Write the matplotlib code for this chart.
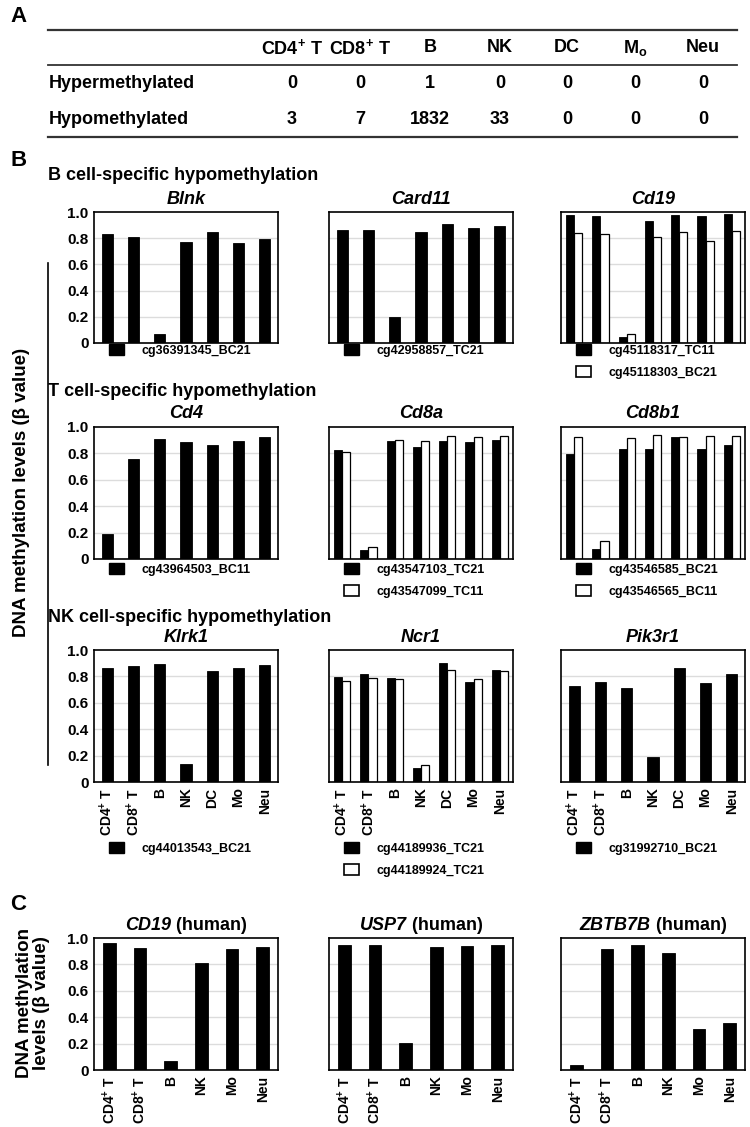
import matplotlib
matplotlib.use("Agg")
import matplotlib.pyplot as plt
import numpy as np
from matplotlib.patches import Patch
from matplotlib.lines import Line2D

plt.rcParams['font.family'] = ['Liberation Sans', 'DejaVu Sans']
plt.rcParams['font.weight'] = 'bold'
plt.rcParams['mathtext.fontset'] = 'custom'
plt.rcParams['mathtext.rm'] = 'Liberation Sans:bold'
plt.rcParams['mathtext.bf'] = 'Liberation Sans:bold'
plt.rcParams['mathtext.it'] = 'Liberation Sans:bold:italic'
plt.rcParams['mathtext.default'] = 'bf'

# ---------------- data ----------------
# panel A table
table_cols = ['CD4$^{+}$ T', 'CD8$^{+}$ T', 'B', 'NK', 'DC', 'M$_{o}$', 'Neu']
table_rows = ['Hypermethylated', 'Hypomethylated']
hyper_counts = [0, 0, 1, 0, 0, 0, 0]
hypo_counts = [3, 7, 1832, 33, 0, 0, 0]

# panel B (mouse)
cells_mouse = ['CD4$^{+}$ T', 'CD8$^{+}$ T', 'B', 'NK', 'DC', 'Mo', 'Neu']
blnk = [0.83, 0.81, 0.07, 0.77, 0.85, 0.765, 0.795]
card11 = [0.866, 0.866, 0.195, 0.848, 0.911, 0.881, 0.894]
cd19_a = [0.975, 0.967, 0.043, 0.929, 0.975, 0.970, 0.985]
cd19_b = [0.838, 0.833, 0.071, 0.810, 0.848, 0.777, 0.853]
cd4 = [0.188, 0.759, 0.912, 0.884, 0.864, 0.897, 0.922]
cd8a_a = [0.824, 0.070, 0.897, 0.850, 0.892, 0.887, 0.900]
cd8a_b = [0.809, 0.090, 0.900, 0.897, 0.935, 0.925, 0.930]
cd8b1_a = [0.799, 0.078, 0.837, 0.830, 0.925, 0.830, 0.862]
cd8b1_b = [0.925, 0.136, 0.920, 0.940, 0.922, 0.935, 0.930]
klrk1 = [0.866, 0.881, 0.891, 0.139, 0.843, 0.866, 0.884]
ncr1_a = [0.797, 0.815, 0.790, 0.109, 0.899, 0.759, 0.848]
ncr1_b = [0.765, 0.787, 0.780, 0.132, 0.848, 0.777, 0.840]
pik3r1 = [0.724, 0.759, 0.709, 0.192, 0.866, 0.747, 0.815]

# panel C (human)
cells_human = ['CD4$^{+}$ T', 'CD8$^{+}$ T', 'B', 'NK', 'Mo', 'Neu']
cd19_h = [0.962, 0.927, 0.068, 0.813, 0.919, 0.929]
usp7_h = [0.949, 0.947, 0.203, 0.929, 0.939, 0.944]
zbtb7b_h = [0.040, 0.916, 0.947, 0.884, 0.309, 0.354]

W, H = 750, 1127
fig = plt.figure(figsize=(W / 100, H / 100), dpi=100)
renderer = fig.canvas.get_renderer()


def box(left, top, right, bottom):
    return [left / W, 1 - bottom / H, (right - left) / W, (bottom - top) / H]


def fx(x):
    return x / W


def fy(y):
    return 1 - y / H


# ---------------- panel A ----------------
fig.text(fx(10), fy(17), 'A', fontsize=16, fontweight='bold', va='center')
col_x = [292, 360, 430, 500, 567, 635, 703]
for y, lw in [(30, 1.6), (65, 1.3), (137, 1.6)]:
    fig.add_artist(Line2D([fx(48), fx(737)], [fy(y), fy(y)], color='#333333', lw=lw))
for x, c in zip(col_x, table_cols):
    fig.text(fx(x), fy(48), c, fontsize=13, ha='center', va='center')
for y, name, vals in [(84, table_rows[0], hyper_counts), (120, table_rows[1], hypo_counts)]:
    fig.text(fx(49), fy(y), name, fontsize=13, ha='left', va='center')
    for x, v in zip(col_x, vals):
        fig.text(fx(x), fy(y), str(v), fontsize=13, ha='center', va='center')

# ---------------- panel B / C ----------------
col_left = [94, 329, 561]
ax_w = 184


def draw_panel(ax, cats, vals_a, vals_b=None, show_y=False, show_x=False):
    n = len(cats)
    x = np.arange(n)
    for g in [0.2, 0.4, 0.6, 0.8]:
        ax.axhline(g, color='#dcdcdc', lw=1.0, zorder=0)
    if vals_b is None:
        ax.bar(x, vals_a, 0.42, color='black', edgecolor='black', lw=0.6, zorder=2)
    else:
        ax.bar(x - 0.155, vals_a, 0.31, color='black', edgecolor='black', lw=0.6, zorder=2)
        ax.bar(x + 0.155, vals_b, 0.31, color='white', edgecolor='black', lw=0.9, zorder=2)
    ax.set_xlim(-0.5, n - 0.5)
    ax.set_ylim(0, 1.0)
    ax.set_yticks([0, 0.2, 0.4, 0.6, 0.8, 1.0])
    if show_y:
        ax.set_yticklabels(['0', '0.2', '0.4', '0.6', '0.8', '1.0'], fontsize=11, fontweight='bold')
    else:
        ax.set_yticklabels([])
    ax.set_xticks(x)
    if show_x:
        ax.set_xticklabels(cats, rotation=90, fontsize=10, fontweight='bold')
    else:
        ax.set_xticklabels([])
    ax.tick_params(length=0, pad=4)
    for s in ax.spines.values():
        s.set_linewidth(1.2)


def add_legend(ax, labels, top_px, bottom_px, center_px):
    handles = [Patch(facecolor='black', edgecolor='black')]
    if len(labels) > 1:
        handles.append(Patch(facecolor='white', edgecolor='black', lw=1.2))
    ytop = -(center_px - 9 - bottom_px) / (bottom_px - top_px)
    ax.legend(handles, labels, loc='upper left', bbox_to_anchor=(0.08, ytop),
              frameon=False, fontsize=9, handlelength=1.25, handleheight=0.95,
              handletextpad=1.4, labelspacing=0.75, borderpad=0, borderaxespad=0)


rows = [
    dict(top=212, bottom=343, leg=353, section='B cell-specific hypomethylation', sec_y=176,
         title_y=199, show_x=False,
         panels=[('Blnk', blnk, None, ['cg36391345_BC21']),
                 ('Card11', card11, None, ['cg42958857_TC21']),
                 ('Cd19', cd19_a, cd19_b, ['cg45118317_TC11', 'cg45118303_BC21'])]),
    dict(top=427, bottom=559, leg=572, section='T cell-specific hypomethylation', sec_y=392,
         title_y=413, show_x=False,
         panels=[('Cd4', cd4, None, ['cg43964503_BC11']),
                 ('Cd8a', cd8a_a, cd8a_b, ['cg43547103_TC21', 'cg43547099_TC11']),
                 ('Cd8b1', cd8b1_a, cd8b1_b, ['cg43546585_BC21', 'cg43546565_BC11'])]),
    dict(top=650, bottom=782, leg=851, section='NK cell-specific hypomethylation', sec_y=617,
         title_y=638, show_x=True,
         panels=[('Klrk1', klrk1, None, ['cg44013543_BC21']),
                 ('Ncr1', ncr1_a, ncr1_b, ['cg44189936_TC21', 'cg44189924_TC21']),
                 ('Pik3r1', pik3r1, None, ['cg31992710_BC21'])]),
]

fig.text(fx(10), fy(160), 'B', fontsize=16, fontweight='bold', va='center')
for r in rows:
    fig.text(fx(48), fy(r['sec_y']), r['section'], fontsize=13, fontweight='bold', va='center')
    for i, (gene, va, vb, labels) in enumerate(r['panels']):
        ax = fig.add_axes(box(col_left[i], r['top'], col_left[i] + ax_w, r['bottom']))
        draw_panel(ax, cells_mouse, va, vb, show_y=(i == 0), show_x=r['show_x'])
        fig.text(fx(col_left[i] + ax_w / 2), fy(r['title_y']), gene, fontsize=13,
                 fontweight='bold', style='italic', ha='center', va='center')
        add_legend(ax, labels, r['top'], r['bottom'], r['leg'])

fig.add_artist(Line2D([fx(48), fx(48)], [fy(263), fy(765)], color='black', lw=1.2))
fig.text(fx(22), fy(492), 'DNA methylation levels (β value)', fontsize=13.5,
         fontweight='bold', rotation=90, ha='center', va='center')

# panel C
fig.text(fx(10), fy(905), 'C', fontsize=16, fontweight='bold', va='center')
human = [('CD19', cd19_h), ('USP7', usp7_h), ('ZBTB7B', zbtb7b_h)]
for i, (gene, vals) in enumerate(human):
    ax = fig.add_axes(box(col_left[i], 938, col_left[i] + ax_w, 1070))
    draw_panel(ax, cells_human, vals, None, show_y=(i == 0), show_x=True)
    # italic gene name followed by upright "(human)", centred together
    t1 = fig.text(0, fy(926), gene, fontsize=13, fontweight='bold', style='italic',
                  ha='left', va='center')
    t2 = fig.text(0, fy(926), ' (human)', fontsize=13, fontweight='bold',
                  ha='left', va='center')
    w1 = t1.get_window_extent(renderer).width
    w2 = t2.get_window_extent(renderer).width
    start = col_left[i] + ax_w / 2 - (w1 + w2) / 2
    t1.set_x(fx(start))
    t2.set_x(fx(start + w1))
fig.text(fx(33), fy(1003), 'DNA methylation\nlevels (β value)', fontsize=13.5,
         fontweight='bold', rotation=90, ha='center', va='center', linespacing=1.05)

fig.savefig('out.png', dpi=100)
